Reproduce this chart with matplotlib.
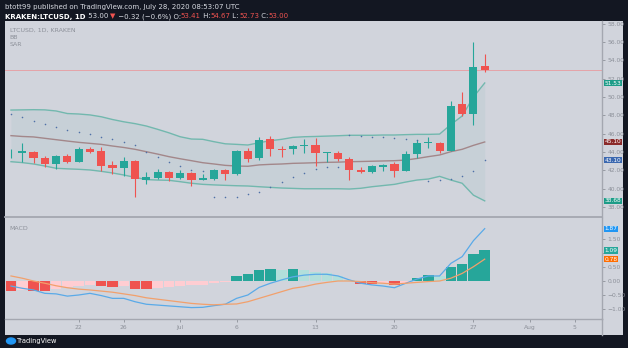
import matplotlib
matplotlib.use('Agg')
import matplotlib.pyplot as plt
import matplotlib.transforms as mtransforms
from matplotlib.patches import Rectangle, Ellipse
from matplotlib.lines import Line2D
import numpy as np
import pandas as pd

# daily candles, LTCUSD on Kraken
dates = pd.date_range('2020-06-16', '2020-07-28', freq='D')
opens = [43.85, 43.86, 44.04, 43.35, 42.73, 43.53, 42.95, 44.30, 44.15, 42.55, 42.30,
         43.00, 40.95, 41.20, 41.80, 41.15, 41.75, 41.00, 41.10, 42.05, 41.57, 44.10,
         43.38, 45.39, 44.36, 44.30, 44.68, 44.77, 43.90, 43.90, 43.24, 42.08, 41.79,
         42.40, 42.67, 41.97, 43.80, 45.02, 44.95, 44.10, 49.24, 48.15, 53.41]
highs = [44.30, 45.00, 44.10, 43.60, 43.70, 43.80, 44.50, 44.50, 44.50, 43.00, 43.45,
         43.10, 41.80, 42.10, 41.90, 42.00, 41.85, 41.60, 42.20, 42.10, 44.20, 44.40,
         45.60, 45.80, 44.70, 44.75, 45.40, 45.50, 44.00, 44.10, 43.50, 42.40, 42.60,
         42.75, 42.90, 44.10, 45.30, 45.60, 45.10, 49.60, 50.60, 56.00, 54.67]
lows = [43.30, 42.95, 42.84, 42.40, 42.20, 42.85, 42.90, 43.90, 41.90, 41.65, 41.40,
        39.13, 40.50, 41.10, 40.80, 41.10, 40.30, 40.90, 41.00, 40.90, 41.50, 42.90,
        43.10, 43.60, 43.50, 43.80, 43.90, 42.50, 42.90, 43.00, 41.00, 41.70, 41.70,
        41.90, 41.30, 41.97, 43.30, 44.40, 43.90, 44.10, 47.90, 46.90, 52.73]
closes = [43.90, 44.08, 43.38, 42.70, 43.57, 42.90, 44.33, 44.04, 42.48, 42.30, 43.00,
          41.03, 41.30, 41.80, 41.17, 41.77, 40.95, 41.17, 42.05, 41.60, 44.10, 43.24,
          45.31, 44.33, 44.25, 44.66, 44.72, 43.93, 43.96, 43.24, 42.04, 41.86, 42.50,
          42.60, 41.97, 43.80, 45.00, 45.13, 44.15, 49.05, 48.15, 53.32, 53.00]

# Bollinger bands
bb_upper = [48.58, 48.60, 48.62, 48.60, 48.48, 48.20, 48.15, 48.05, 47.85, 47.55, 47.30,
            47.10, 46.84, 46.48, 46.10, 45.67, 45.42, 45.39, 45.13, 44.90, 44.84, 44.77,
            45.02, 45.24, 45.39, 45.60, 45.67, 45.70, 45.74, 45.78, 45.83, 45.83, 45.83,
            45.86, 45.86, 45.90, 45.93, 45.93, 45.96, 47.00, 47.93, 50.00, 51.53]
bb_basis = [45.79, 45.70, 45.65, 45.50, 45.35, 45.20, 45.06, 44.95, 44.84, 44.66, 44.50,
            44.30, 44.04, 43.78, 43.50, 43.27, 43.06, 42.84, 42.70, 42.55, 42.48, 42.45,
            42.60, 42.66, 42.70, 42.77, 42.80, 42.84, 42.88, 42.90, 42.95, 42.97, 43.00,
            43.03, 43.06, 43.13, 43.30, 43.50, 43.68, 44.04, 44.30, 44.73, 45.10]
bb_lower = [42.95, 42.85, 42.70, 42.48, 42.23, 42.17, 42.12, 42.05, 41.90, 41.72, 41.50,
            41.24, 41.00, 40.95, 40.92, 40.77, 40.60, 40.48, 40.42, 40.37, 40.33, 40.30,
            40.22, 40.15, 40.08, 40.04, 40.00, 40.00, 40.00, 40.00, 39.97, 40.05, 40.22,
            40.35, 40.48, 40.73, 40.95, 41.06, 41.35, 40.95, 40.60, 39.30, 38.68]

# parabolic SAR
sar = [48.15, 47.80, 47.40, 47.06, 46.77, 46.44, 46.15, 45.93, 45.67, 45.42, 45.10,
       44.77, 44.04, 43.50, 42.95, 42.48, 42.04, 41.93, 39.13, 39.13, 39.15, 39.42,
       39.68, 40.15, 40.77, 41.28, 41.75, 42.12, 42.40, 42.40, 45.86, 45.75, 45.68,
       45.60, 45.50, 45.39, 45.30, 40.88, 40.95, 41.06, 41.42, 41.93, 43.10]

# MACD
macd_line = [-0.18, -0.26, -0.32, -0.44, -0.46, -0.54, -0.50, -0.44, -0.52, -0.62, -0.62,
             -0.74, -0.83, -0.86, -0.89, -0.92, -0.95, -0.94, -0.88, -0.83, -0.62, -0.50,
             -0.23, -0.08, 0.04, 0.15, 0.21, 0.24, 0.24, 0.18, 0.04, -0.08, -0.14,
             -0.18, -0.24, -0.08, 0.07, 0.18, 0.18, 0.63, 0.87, 1.44, 1.87]
signal_line = [0.18, 0.10, 0.00, -0.08, -0.17, -0.24, -0.29, -0.32, -0.36, -0.40, -0.46,
               -0.52, -0.60, -0.65, -0.70, -0.75, -0.80, -0.83, -0.85, -0.83, -0.82, -0.74,
               -0.62, -0.50, -0.38, -0.26, -0.20, -0.11, -0.05, 0.00, 0.00, -0.02, -0.06,
               -0.08, -0.11, -0.08, -0.05, -0.02, 0.00, 0.10, 0.27, 0.51, 0.78]
macd_hist = [-0.36, -0.32, -0.36, -0.37, -0.29, -0.23, -0.18, -0.14, -0.18, -0.21, -0.18,
             -0.27, -0.29, -0.24, -0.20, -0.18, -0.15, -0.13, -0.06, -0.02, 0.18, 0.25,
             0.39, 0.42, 0.39, 0.42, 0.39, 0.33, 0.29, 0.18, 0.04, -0.11, -0.12,
             -0.08, -0.14, -0.08, 0.10, 0.20, 0.19, 0.49, 0.60, 0.96, 1.09]

tick_dates = pd.to_datetime(['2020-06-22', '2020-06-26', '2020-07-01', '2020-07-06',
                             '2020-07-13', '2020-07-20', '2020-07-27', '2020-08-01',
                             '2020-08-05'])
tick_labels = ['22', '26', 'Jul', '6', '13', '20', '27', 'Aug', '5']

W, H = 628, 348
BG = '#d1d4dc'
DARK = '#131722'
UP = '#26a69a'
DOWN = '#ef5350'
GREY_TXT = '#8c9099'
SEP = '#a4a7b0'


def px_rect(x0, y0, x1, y1):
    return [x0 / W, 1 - y1 / H, (x1 - x0) / W, (y1 - y0) / H]


def fmt(v):
    return f'{v:.2f}'.replace('-', '\u2212')


def tag(ax, val, color):
    tr = mtransforms.blended_transform_factory(ax.transAxes, ax.transData)
    ax.text(1.004, val, fmt(val), transform=tr, fontsize=4.2, color='white',
            va='center', ha='left', zorder=10, clip_on=False,
            bbox=dict(boxstyle='square,pad=0.1', fc=color, ec='none'))


fig = plt.figure(figsize=(W / 100, H / 100), dpi=100, facecolor=DARK)
fig.patches.append(Rectangle((5 / W, 1 - 335 / H), 618 / W, 314 / H,
                             transform=fig.transFigure, facecolor=BG,
                             edgecolor='none', zorder=-5))

x = np.array([(d - dates[0]).days for d in dates])
xlim = (-0.53, 52.4)

# ---- price pane ----
ax = fig.add_axes(px_rect(5, 21, 602, 217))
ax.set_facecolor(BG)
ax.set_xlim(*xlim)
ax.set_ylim(36.92, 58.29)

ax.fill_between(x, bb_lower, bb_upper, color='#198787', alpha=0.05, lw=0, zorder=1)
ax.plot(x, bb_upper, color='#72b8ae', lw=1.0, zorder=2)
ax.plot(x, bb_lower, color='#72b8ae', lw=1.0, zorder=2)
ax.plot(x, bb_basis, color='#a3878a', lw=1.0, zorder=2)
ax.axhline(closes[-1], color='#e5a3a8', lw=0.7, zorder=1.5)

for xi, o, h, l, c in zip(x, opens, highs, lows, closes):
    col = UP if c >= o else DOWN
    ax.vlines(xi, l, h, color=col, lw=0.8, zorder=3)
    ax.bar(xi, max(abs(c - o), 0.07), bottom=min(o, c), width=0.72,
           color=col, lw=0, zorder=4)

ax.scatter(x, sar, s=1.3, color='#4f70a8', lw=0, zorder=5)

pticks = np.arange(38, 58.1, 2)
ax.yaxis.tick_right()
ax.set_yticks(pticks)
ax.set_yticklabels([fmt(v) for v in pticks])
ax.tick_params(axis='y', labelsize=4.3, colors=GREY_TXT, length=2.5, width=0.6, pad=1.5)
ax.set_xticks([])
for s in ['top', 'left']:
    ax.spines[s].set_visible(False)
ax.spines['bottom'].set_color(SEP)
ax.spines['bottom'].set_linewidth(1.3)
ax.spines['right'].set_color(SEP)
ax.spines['right'].set_linewidth(1.0)

tag(ax, bb_upper[-1], '#1d9c88')
tag(ax, bb_basis[-1], '#8b2b2b')
tag(ax, sar[-1], '#3b68b0')
tag(ax, bb_lower[-1], '#1d9c88')

ax.text(0.008, 0.955, 'LTCUSD, 1D, KRAKEN', transform=ax.transAxes, fontsize=4.5,
        color=GREY_TXT, va='center')
ax.text(0.008, 0.915, 'BB', transform=ax.transAxes, fontsize=4.5, color=GREY_TXT, va='center')
ax.text(0.008, 0.878, 'SAR', transform=ax.transAxes, fontsize=4.5, color=GREY_TXT, va='center')

# ---- MACD pane ----
mx = fig.add_axes(px_rect(5, 218, 602, 319))
mx.set_facecolor(BG)
mx.set_xlim(*xlim)
mx.set_ylim(-1.357, 2.25)

hist_colors = []
prev = 0.0
for hv in macd_hist:
    if hv >= 0:
        hist_colors.append(UP if hv > prev else '#b2dfdb')
    else:
        hist_colors.append('#ffcdd2' if hv > prev else DOWN)
    prev = hv
mx.bar(x, macd_hist, width=0.93, color=hist_colors, lw=0, zorder=2)
mx.plot(x, macd_line, color='#5aaae8', lw=0.9, zorder=3)
mx.plot(x, signal_line, color='#f2a06c', lw=0.9, zorder=3)

# the 1.00 label sits under the histogram tag in the original
mticks = [-1.0, -0.5, 0.0, 0.5, 1.0, 1.5]
mx.yaxis.tick_right()
mx.set_yticks(mticks)
mx.set_yticklabels([fmt(v) if v != 1.0 else '' for v in mticks])
mx.tick_params(axis='y', labelsize=4.3, colors=GREY_TXT, length=2.5, width=0.6, pad=1.5)

tick_x = [(d - dates[0]).days for d in tick_dates]
mx.set_xticks(tick_x)
mx.set_xticklabels(tick_labels)
mx.tick_params(axis='x', labelsize=4.3, colors=GREY_TXT, length=2, width=0.6, pad=2.5)
for s in ['top', 'left']:
    mx.spines[s].set_visible(False)
mx.spines['bottom'].set_color(SEP)
mx.spines['bottom'].set_linewidth(1.0)
mx.spines['right'].set_color(SEP)
mx.spines['right'].set_linewidth(1.0)

tag(mx, macd_line[-1], '#2196f3')
tag(mx, macd_hist[-1], UP)
tag(mx, signal_line[-1], '#ff6d00')

mx.text(0.008, 0.9, 'MACD', transform=mx.transAxes, fontsize=4.5, color=GREY_TXT, va='center')

# right axis divider through the time strip
fig.add_artist(Line2D([602 / W, 602 / W], [1 - 335 / H, 1 - 319 / H], color=SEP, lw=1.0))

# ---- header & footer ----
hdr = fig.add_axes([0, 0, 1, 1])
hdr.axis('off')
hdr.patch.set_visible(False)
hdr.text(5 / W, 1 - 7.5 / H, 'btott99 published on TradingView.com, July 28, 2020 08:53:07 UTC',
         transform=fig.transFigure, fontsize=5.0, color='#d8dbe2', va='center')

t = hdr.text(5 / W, 1 - 16.5 / H, 'KRAKEN:LTCUSD, 1D', transform=fig.transFigure,
             fontsize=5.0, color='white', fontweight='bold', va='center')
segments = [(' 53.00 ', '#d8dbe2'), ('\u25bc', DOWN), (' \u22120.32 (\u22120.6%) O:', '#d8dbe2'),
            ('53.41', DOWN), (' H:', '#d8dbe2'), ('54.67', DOWN), (' L:', '#d8dbe2'),
            ('52.73', DOWN), (' C:', '#d8dbe2'), ('53.00', DOWN)]
for seg, col in segments:
    t = hdr.annotate(seg, xy=(1, 0), xycoords=t, va='bottom', ha='left',
                     fontsize=5.0, color=col)

hdr.add_patch(Ellipse((11 / W, 1 - 341 / H), 9 / W, 6 / H, transform=fig.transFigure,
                      color='#2196f3'))
hdr.text(17 / W, 1 - 341 / H, 'TradingView', transform=fig.transFigure, fontsize=4.8,
         color='white', va='center')

fig.savefig('out.png', dpi=100, facecolor=DARK)
